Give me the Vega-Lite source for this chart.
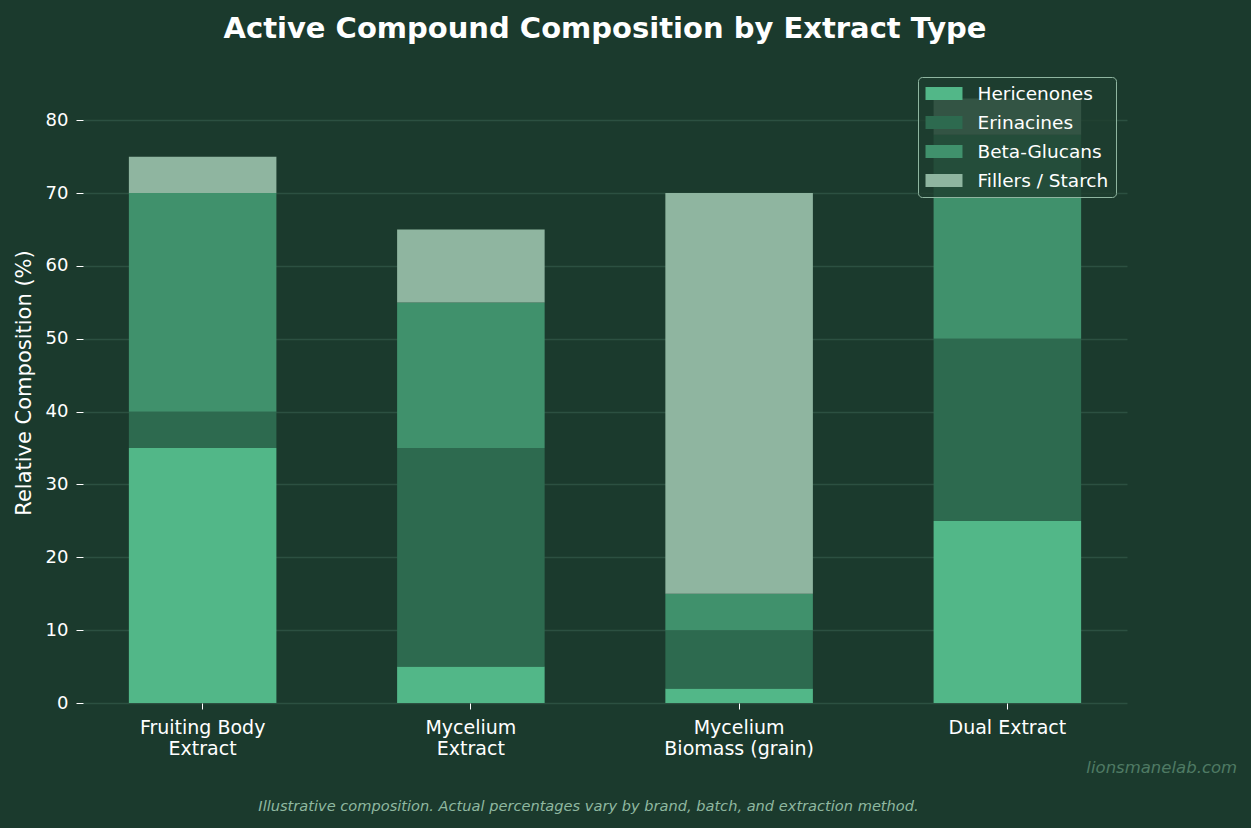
{
  "$schema": "https://vega.github.io/schema/vega-lite/v6.json",
  "width": 1044,
  "height": 641,
  "autosize": {"type": "none"},
  "padding": {"left": 83, "top": 62, "right": 124, "bottom": 125},
  "background": "#1b3a2d",
  "title": {
    "text": "Active Compound Composition by Extract Type",
    "font": "DejaVu Sans",
    "fontSize": 29,
    "fontWeight": "bold",
    "color": "#ffffff",
    "anchor": "middle",
    "offset": 18
  },
  "data": {
    "values": [
      {"extract": "Fruiting Body\nExtract", "compound": "Hericenones", "pct": 35},
      {"extract": "Fruiting Body\nExtract", "compound": "Erinacines", "pct": 5},
      {"extract": "Fruiting Body\nExtract", "compound": "Beta-Glucans", "pct": 30},
      {"extract": "Fruiting Body\nExtract", "compound": "Fillers / Starch", "pct": 5},
      {"extract": "Mycelium\nExtract", "compound": "Hericenones", "pct": 5},
      {"extract": "Mycelium\nExtract", "compound": "Erinacines", "pct": 30},
      {"extract": "Mycelium\nExtract", "compound": "Beta-Glucans", "pct": 20},
      {"extract": "Mycelium\nExtract", "compound": "Fillers / Starch", "pct": 10},
      {"extract": "Mycelium\nBiomass (grain)", "compound": "Hericenones", "pct": 2},
      {"extract": "Mycelium\nBiomass (grain)", "compound": "Erinacines", "pct": 8},
      {"extract": "Mycelium\nBiomass (grain)", "compound": "Beta-Glucans", "pct": 5},
      {"extract": "Mycelium\nBiomass (grain)", "compound": "Fillers / Starch", "pct": 55},
      {"extract": "Dual Extract", "compound": "Hericenones", "pct": 25},
      {"extract": "Dual Extract", "compound": "Erinacines", "pct": 25},
      {"extract": "Dual Extract", "compound": "Beta-Glucans", "pct": 28},
      {"extract": "Dual Extract", "compound": "Fillers / Starch", "pct": 5}
    ]
  },
  "layer": [
    {
      "transform": [
        {"calculate": "indexof(['Hericenones', 'Erinacines', 'Beta-Glucans', 'Fillers / Starch'], datum.compound)", "as": "stackOrder"}
      ],
      "mark": {"type": "bar"},
      "encoding": {
        "x": {
          "field": "extract",
          "type": "nominal",
          "sort": null,
          "scale": {"paddingInner": 0.45, "paddingOuter": 0.171},
          "axis": {
            "title": "Illustrative composition. Actual percentages vary by brand, batch, and extraction method.",
            "titleFont": "DejaVu Sans",
            "titleFontStyle": "italic",
            "titleFontWeight": "normal",
            "titleFontSize": 14.6,
            "titleColor": "#8fb8a0",
            "titleX": 505,
            "titleY": 103,
            "titleAlign": "center",
            "titleBaseline": "middle",
            "labelExpr": "split(datum.label, '\\n')",
            "labelAngle": 0,
            "labelFont": "DejaVu Sans",
            "labelFontSize": 19,
            "labelColor": "#ffffff",
            "labelPadding": 9,
            "labelLineHeight": 21,
            "domain": false,
            "tickColor": "#ffffff",
            "tickSize": 6
          }
        },
        "y": {
          "field": "pct",
          "type": "quantitative",
          "stack": "zero",
          "scale": {"domain": [0, 88], "nice": false},
          "axis": {
            "title": "Relative Composition (%)",
            "titleFont": "DejaVu Sans",
            "titleFontWeight": "normal",
            "titleFontSize": 21,
            "titleColor": "#ffffff",
            "titlePadding": 11,
            "values": [0, 10, 20, 30, 40, 50, 60, 70, 80],
            "labelFont": "DejaVu Sans",
            "labelFontSize": 18,
            "labelColor": "#ffffff",
            "labelPadding": 8,
            "domain": false,
            "tickColor": "#ffffff",
            "tickSize": 7,
            "grid": true,
            "gridColor": "#2c5041",
            "gridWidth": 1.5
          }
        },
        "order": {"field": "stackOrder", "type": "quantitative", "sort": "ascending"},
        "color": {
          "field": "compound",
          "type": "nominal",
          "sort": ["Hericenones", "Erinacines", "Beta-Glucans", "Fillers / Starch"],
          "scale": {
            "domain": ["Hericenones", "Erinacines", "Beta-Glucans", "Fillers / Starch"],
            "range": ["#52b788", "#2d6a4f", "#40916c", "#8fb5a0"]
          },
          "legend": {
            "title": null,
            "orient": "none",
            "legendX": 835,
            "legendY": 15,
            "fillColor": "rgba(30,62,48,0.82)",
            "strokeColor": "#8fb5a0",
            "cornerRadius": 4,
            "padding": 7,
            "rowPadding": 10,
            "symbolType": "M-2,-0.7H2V0.7H-2Z",
            "symbolSize": 342,
            "symbolOffset": 9.5,
            "symbolStrokeWidth": 0,
            "symbolOpacity": 1,
            "labelFont": "DejaVu Sans",
            "labelFontSize": 18.5,
            "labelColor": "#ffffff",
            "labelOffset": 24
          }
        }
      }
    },
    {
      "data": {"values": [{"note": "lionsmanelab.com"}]},
      "mark": {
        "type": "text",
        "align": "right",
        "baseline": "middle",
        "font": "DejaVu Sans",
        "fontStyle": "italic",
        "fontSize": 16.5,
        "color": "#4f7a64",
        "dx": 156,
        "dy": 65
      },
      "encoding": {
        "x": {"datum": "Dual Extract", "bandPosition": 1},
        "y": {"datum": 0},
        "text": {"field": "note"}
      }
    }
  ],
  "config": {
    "view": {"stroke": null},
    "font": "DejaVu Sans"
  }
}
